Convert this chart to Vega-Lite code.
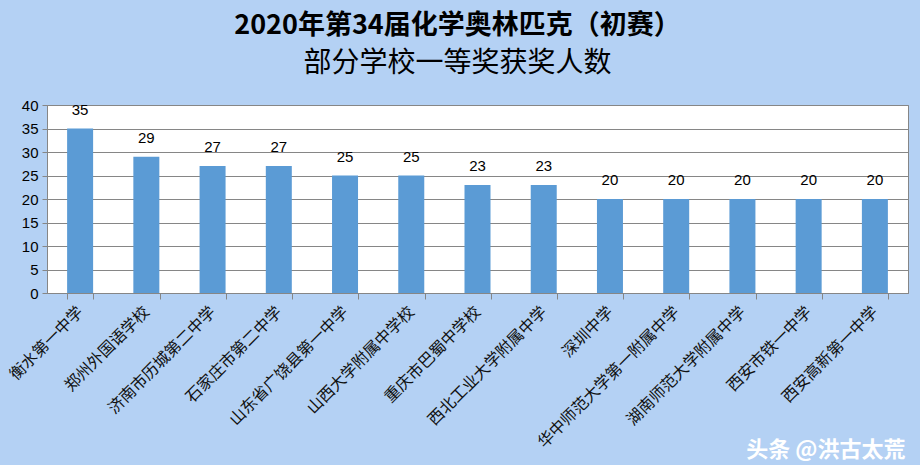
{
  "$schema": "https://vega.github.io/schema/vega-lite/v6.json",
  "width": 861,
  "height": 188,
  "autosize": {"type": "none"},
  "padding": {"left": 47, "top": 105, "right": 12, "bottom": 172},
  "background": "#B4D1F4",
  "title": {
    "text": "2020年第34届化学奥林匹克（初赛）",
    "subtitle": "部分学校一等奖获奖人数",
    "anchor": "middle",
    "frame": "group",
    "dx": -20,
    "offset": 19,
    "font": "Noto Sans CJK SC",
    "fontSize": 27,
    "fontWeight": "bold",
    "color": "#000000",
    "subtitleFont": "Noto Sans CJK SC",
    "subtitleFontSize": 28,
    "subtitleFontWeight": "normal",
    "subtitleColor": "#000000",
    "subtitlePadding": 10
  },
  "data": {
    "values": [
      {"school": "衡水第一中学", "count": 35},
      {"school": "郑州外国语学校", "count": 29},
      {"school": "济南市历城第二中学", "count": 27},
      {"school": "石家庄市第二中学", "count": 27},
      {"school": "山东省广饶县第一中学", "count": 25},
      {"school": "山西大学附属中学校", "count": 25},
      {"school": "重庆市巴蜀中学校", "count": 23},
      {"school": "西北工业大学附属中学", "count": 23},
      {"school": "深圳中学", "count": 20},
      {"school": "华中师范大学第一附属中学", "count": 20},
      {"school": "湖南师范大学附属中学", "count": 20},
      {"school": "西安市铁一中学", "count": 20},
      {"school": "西安高新第一中学", "count": 20}
    ]
  },
  "config": {
    "view": {"fill": "#FFFFFF", "stroke": "#868686", "strokeWidth": 1}
  },
  "encoding": {
    "x": {
      "field": "school",
      "type": "nominal",
      "sort": null,
      "title": "头条 @洪古太荒",
      "axis": {
        "labelAngle": -45,
        "labelAlign": "right",
        "labelBaseline": "middle",
        "labelFont": "Noto Sans CJK SC",
        "labelFontSize": 16,
        "labelColor": "#111111",
        "labelPadding": 10,
        "labelLimit": 400,
        "tickBand": "extent",
        "tickSize": 6,
        "tickColor": "#868686",
        "domainColor": "#868686",
        "titleFont": "Noto Sans CJK SC",
        "titleFontSize": 22,
        "titleFontWeight": "bold",
        "titleColor": "#FFFFFF",
        "titleAlign": "right",
        "titleAnchor": "end",
        "titleBaseline": "alphabetic",
        "titleX": 858,
        "titleY": 163
      },
      "scale": {"paddingInner": 0.6, "paddingOuter": 0.3}
    },
    "y": {
      "field": "count",
      "type": "quantitative",
      "title": null,
      "scale": {"domain": [0, 40]},
      "axis": {
        "values": [0, 5, 10, 15, 20, 25, 30, 35, 40],
        "labelFont": "Liberation Sans",
        "labelFontSize": 15,
        "labelColor": "#000000",
        "labelPadding": 4,
        "tickSize": 5,
        "tickColor": "#868686",
        "domainColor": "#868686",
        "gridColor": "#868686",
        "gridWidth": 1
      }
    }
  },
  "layer": [
    {"mark": {"type": "bar", "color": "#5B9BD5", "size": 26}},
    {
      "mark": {"type": "text", "dy": -11, "font": "Liberation Sans", "fontSize": 15, "color": "#000000", "baseline": "bottom"},
      "encoding": {"text": {"field": "count", "type": "quantitative"}}
    }
  ]
}
